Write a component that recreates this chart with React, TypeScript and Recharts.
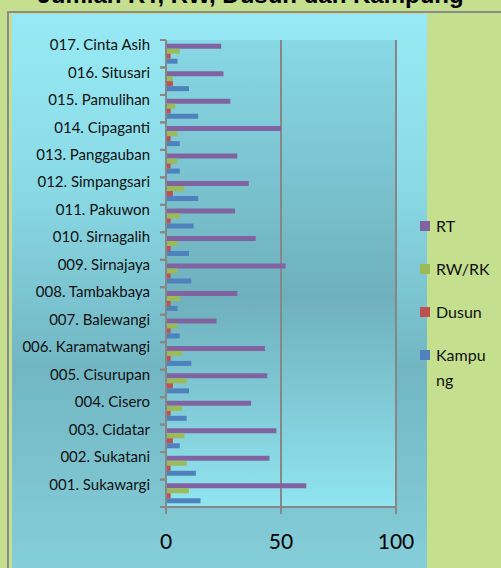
import React from "react";
import { BarChart, Bar, XAxis, YAxis, CartesianGrid, Legend } from "recharts";

const categories = [
  "001. Sukawargi", "002. Sukatani", "003. Cidatar", "004. Cisero", "005. Cisurupan",
  "006. Karamatwangi", "007. Balewangi", "008. Tambakbaya", "009. Sirnajaya", "010. Sirnagalih",
  "011. Pakuwon", "012. Simpangsari", "013. Panggauban", "014. Cipaganti", "015. Pamulihan",
  "016. Situsari", "017. Cinta Asih",
];
const rt = [61, 45, 48, 37, 44, 43, 22, 31, 52, 39, 30, 36, 31, 50, 28, 25, 24];
const rwrk = [10, 9, 8, 7, 9, 7, 5, 6, 5, 5, 6, 8, 5, 5, 4, 3, 6];
const dusun = [2, 2, 3, 2, 3, 2, 2, 2, 2, 2, 2, 3, 2, 2, 2, 3, 2];
const kampung = [15, 13, 6, 9, 10, 11, 6, 5, 11, 10, 12, 14, 6, 6, 14, 10, 5];
const xTicks = [0, 50, 100];
const seriesNames = ["RT", "RW/RK", "Dusun", "Kampung"];
const seriesColors = ["#8064A2", "#9BBB59", "#C0504D", "#4F81BD"];
const title = "Jumlah RT, RW, Dusun dan Kampung";

// top-to-bottom order on the chart: 017 at top, 001 at bottom
const data = categories
  .map((name, i) => ({
    name,
    RT: rt[i],
    "RW/RK": rwrk[i],
    Dusun: dusun[i],
    Kampung: kampung[i],
  }))
  .reverse();

const W = 501;
const H = 568;
const M = { top: 40, right: 105, bottom: 0, left: 16 };
const XH = 61;
const BAND = (H - M.top - M.bottom - XH) / categories.length;
const FONT = "Lato, 'Open Sans', sans-serif";
const AXIS = "#878787";

const YTick = (props: any) => {
  const { x, y, payload } = props;
  const ax = x + 16;
  return (
    <g>
      <line x1={ax - 6} x2={ax} y1={y - BAND / 2} y2={y - BAND / 2} stroke={AXIS} strokeWidth={2} />
      <line x1={ax - 6} x2={ax} y1={y + BAND / 2} y2={y + BAND / 2} stroke={AXIS} strokeWidth={2} />
      <text x={x} y={y - 9} dy="0.36em" textAnchor="end" fill="#111" fontSize={15} fontFamily={FONT}>
        {payload.value}
      </text>
    </g>
  );
};

const LegendContent = (props: any) => {
  const payload = [...(props.payload || [])].sort(
    (a: any, b: any) => seriesNames.indexOf(a.value) - seriesNames.indexOf(b.value)
  );
  return (
    <div style={{ fontFamily: FONT, fontSize: 16, color: "#111" }}>
      {payload.map((p: any) => (
        <div key={p.value} style={{ height: 43, display: "flex", alignItems: "flex-start" }}>
          <div style={{ width: 10, height: 10, marginTop: 8, background: p.color, flex: "0 0 auto" }} />
          <div style={{ marginLeft: 6, width: 55, lineHeight: "25px", wordBreak: "break-all" }}>{p.value}</div>
        </div>
      ))}
    </div>
  );
};

export default function App() {
  return (
    <div style={{ position: "fixed", left: 0, top: 0, width: W, height: H, background: "#C4DF8E", overflow: "hidden" }}>
      <div
        style={{
          position: "absolute", left: 0, top: -17, width: W, textAlign: "center",
          fontFamily: "'Liberation Sans', Arial, sans-serif", fontWeight: "bold", fontSize: 24,
          lineHeight: "24px", color: "#000", whiteSpace: "nowrap",
        }}
      >
        {title}
      </div>
      <div
        style={{
          position: "absolute", left: 7, top: 11, width: W, height: H,
          borderLeft: "2px solid #8C8C8C", borderTop: "2px solid #8C8C8C",
        }}
      />
      <div
        style={{
          position: "absolute", left: 12, top: 14, width: 415, height: H,
          background: "linear-gradient(to bottom, #97EAF5 0%, #8ADAE6 30%, #72B6C3 62%, #86D0DB 100%)",
        }}
      />
      <div style={{ position: "absolute", left: 0, top: 0 }}>
        <BarChart
          width={W}
          height={H}
          data={data}
          layout="vertical"
          margin={M}
          barCategoryGap="13.5%"
          barGap={0}
        >
          <defs>
            <linearGradient id="plotBg" x1="0" y1="0" x2="0" y2="1">
              <stop offset="0%" stopColor="#88D8E5" />
              <stop offset="55%" stopColor="#6FB0BD" />
              <stop offset="100%" stopColor="#90E5F0" />
            </linearGradient>
          </defs>
          <CartesianGrid horizontal={false} stroke={AXIS} strokeWidth={2} fill="url(#plotBg)" fillOpacity={1} />
          <XAxis
            type="number"
            domain={[0, 100]}
            ticks={xTicks}
            height={XH}
            axisLine={{ stroke: AXIS, strokeWidth: 2 }}
            tickLine={{ stroke: AXIS, strokeWidth: 2 }}
            tickSize={7}
            tickMargin={20}
            tick={{ fill: "#000", fontSize: 21, fontFamily: FONT }}
          />
          <YAxis
            type="category"
            dataKey="name"
            width={150}
            axisLine={{ stroke: AXIS, strokeWidth: 2 }}
            tickLine={false}
            tickSize={0}
            tickMargin={16}
            interval={0}
            tick={<YTick />}
          />
          <Legend
            layout="vertical"
            align="center"
            verticalAlign="middle"
            wrapperStyle={{ left: 420, top: 213, width: 81 }}
            content={<LegendContent />}
          />
          {seriesNames.map((s, i) => (
            <Bar key={s} dataKey={s} fill={seriesColors[i]} isAnimationActive={false} />
          ))}
        </BarChart>
      </div>
    </div>
  );
}
